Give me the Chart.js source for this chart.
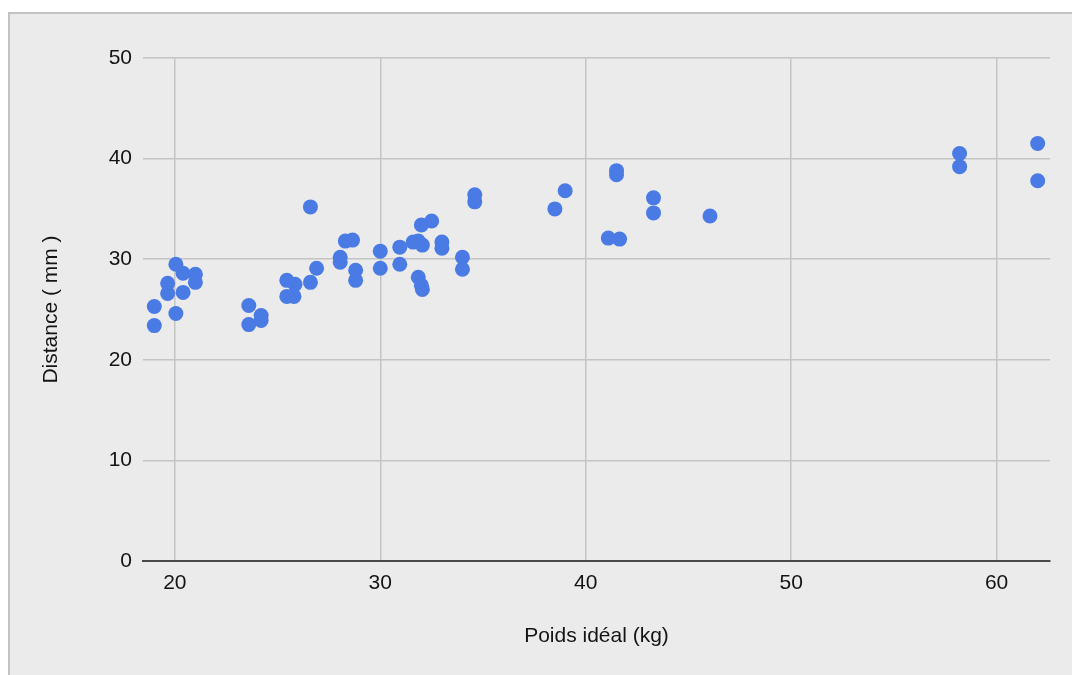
<!DOCTYPE html>
<html>
<head>
<meta charset="utf-8">
<script src="https://cdn.jsdelivr.net/npm/chart.js@4"></script>
<style>
  body { margin: 0; background: #fff; overflow: hidden; }
  #cadre {
    position: absolute; left: 8px; top: 12px; width: 1080px; height: 680px;
    background: #ebebeb; border-left: 2px solid #c2c2c2; border-top: 2px solid #c2c2c2;
  }
  #zone { position: absolute; left: 0; top: 0; width: 1072px; height: 675px; }
</style>
</head>
<body>
<div id="cadre"></div>
<div id="zone"><canvas id="nuage"></canvas></div>
<script>
// Données
const poids = [
  19.0, 19.0, 19.65, 19.65, 20.05, 20.05, 20.4, 20.4, 21.0, 21.0,
  23.6, 23.6, 24.2, 24.2, 25.45, 25.45, 25.85, 25.8, 26.6, 26.6,
  26.9, 28.05, 28.05, 28.3, 28.65, 28.8, 28.8, 30.0, 30.0, 30.95,
  30.95, 31.6, 31.85, 31.85, 32.0, 32.05, 32.0, 32.5, 32.05, 33.0,
  33.0, 34.0, 34.0, 34.6, 34.6, 38.5, 39.0, 41.1, 41.65, 41.5,
  41.5, 43.3, 43.3, 46.05, 58.2, 58.2, 62.0, 62.0
];
const distance = [
  25.3, 23.4, 27.6, 26.6, 29.5, 24.6, 28.6, 26.7, 28.5, 27.7,
  25.4, 23.5, 24.4, 23.9, 27.9, 26.3, 27.5, 26.3, 35.2, 27.7,
  29.1, 30.2, 29.7, 31.8, 31.9, 28.9, 27.9, 30.8, 29.1, 31.2,
  29.5, 31.7, 31.8, 28.2, 27.4, 27.0, 33.4, 33.8, 31.4, 31.7,
  31.1, 30.2, 29.0, 36.4, 35.7, 35.0, 36.8, 32.1, 32.0, 38.8,
  38.4, 36.1, 34.6, 34.3, 40.5, 39.2, 41.5, 37.8
];
const ticksX = [20, 30, 40, 50, 60];
const ticksY = [0, 10, 20, 30, 40, 50];

const points = poids.map((p, i) => ({ x: p, y: distance[i] }));

Chart.defaults.font.family = "'Liberation Sans', Arial, sans-serif";
Chart.defaults.color = '#141414';

const nuage = new Chart(document.getElementById('nuage'), {
    type: 'scatter',
    data: {
        datasets: [{
            label: 'Distance',
            data: points,
            backgroundColor: '#4a7be5',
            borderWidth: 0,
            pointRadius: 7.5,
            pointHoverRadius: 7.5
        }]
    },
    options: {
        responsive: true,
        maintainAspectRatio: false,
        animation: false,
        layout: {
            padding: { top: 58, right: 22, left: 0, bottom: 0 }
        },
        plugins: {
            legend: { display: false },
            tooltip: { enabled: false }
        },
        scales: {
            x: {
                type: 'linear',
                min: 18.45,
                max: 62.6,
                afterBuildTicks: (scale) => {
                    scale.ticks = ticksX.map(v => ({ value: v }));
                },
                afterFit: (scale) => { scale.height = 114; },
                grid: { color: '#c4c4c4', lineWidth: 1.5, drawTicks: false },
                border: { display: true, color: '#4a4a4a', width: 2 },
                ticks: { padding: 10, font: { size: 21 } },
                title: {
                    display: true,
                    text: 'Poids idéal (kg)',
                    font: { size: 21 },
                    padding: { top: 0, bottom: 26 }
                }
            },
            y: {
                min: 0,
                max: 50,
                afterBuildTicks: (scale) => {
                    scale.ticks = ticksY.map(v => ({ value: v }));
                },
                afterFit: (scale) => { scale.width = 143; },
                grid: { color: '#c4c4c4', lineWidth: 1.5, drawTicks: false },
                border: { display: false },
                ticks: { padding: 11, font: { size: 21 } },
                title: {
                    display: true,
                    text: 'Distance ( mm )',
                    font: { size: 21 },
                    padding: { top: 39, bottom: 0 }
                }
            }
        }
    }
});
</script>
</body>
</html>
